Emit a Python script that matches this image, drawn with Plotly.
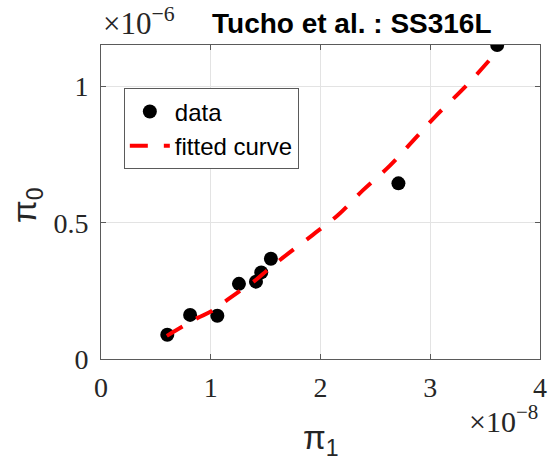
import plotly.graph_objects as go

# data (pi_1 in units of 1e-8, pi_0 in units of 1e-6)
pi1_data = [0.604, 0.812, 1.06, 1.257, 1.412, 1.46, 1.548, 2.71, 3.61]
pi0_data = [0.089, 0.162, 0.159, 0.276, 0.284, 0.318, 0.368, 0.645, 1.153]

fit_x = [0.60, 0.75, 0.88, 1.01, 1.15, 1.28, 1.41, 1.51, 1.66, 1.93, 2.16, 2.39, 2.63, 2.84, 3.05, 3.35, 3.61]
fit_y = [0.085, 0.121, 0.151, 0.176, 0.217, 0.254, 0.290, 0.324, 0.373, 0.456, 0.529, 0.621, 0.709, 0.80, 0.892, 1.013, 1.13]

x_ticks = [0, 1, 2, 3, 4]
y_ticks = [0, 0.5, 1]
x_ticktext = ["0", "1", "2", "3", "4"]
y_ticktext = ["0", "0.5", "1"]

XS = 1e-8
YS = 1e-6

serif = "Liberation Serif"
sans = "Liberation Sans, Arial"
axcol = "#5a5a5a"
txtcol = "#262626"

fig = go.Figure()
fig.add_trace(go.Scatter(
    x=[v * XS for v in pi1_data], y=[v * YS for v in pi0_data],
    mode="markers", name="data",
    marker=dict(color="black", size=14, line=dict(width=0)),
))
fig.add_trace(go.Scatter(
    x=[v * XS for v in fit_x], y=[v * YS for v in fit_y],
    mode="lines", name="fitted curve", line_shape="spline",
    line=dict(color="#ff0000", width=4, dash="18px,16px"),
))

axis_common = dict(
    showgrid=True, gridcolor="#e3e3e3", gridwidth=1,
    showline=True, linecolor=axcol, linewidth=1, mirror="ticks",
    ticks="inside", ticklen=5, tickcolor=axcol, tickwidth=1,
    zeroline=False, automargin=False,
    tickfont=dict(family=serif, size=28, color=txtcol),
)

fig.update_layout(
    width=549, height=461,
    margin=dict(l=101, r=9, t=45, b=102),
    paper_bgcolor="white", plot_bgcolor="white",
    xaxis=dict(range=[0, 4 * XS], tickvals=[v * XS for v in x_ticks],
               ticktext=x_ticktext, ticklabelstandoff=3, **axis_common),
    yaxis=dict(range=[0, 1.153 * YS], tickvals=[v * YS for v in y_ticks],
               ticktext=y_ticktext, ticklabelstandoff=6, **axis_common),
    legend=dict(
        x=0.052, y=0.862, xanchor="left", yanchor="top",
        bgcolor="white", bordercolor="#5a5a5a", borderwidth=1,
        font=dict(family=sans, size=24, color="black"),
        itemwidth=40, tracegroupgap=0,
    ),
    showlegend=True,
)

annotations = [
    dict(text="<b>Tucho et al. : SS316L</b>", x=210, y=24,
         font=dict(family=sans, size=28, color="black")),
    dict(text="×10<sup>−6</sup>", x=101, y=22, font=dict(family=serif, size=31, color=txtcol)),
    dict(text="×10<sup>−8</sup>", x=540, y=419, font=dict(family=serif, size=30, color=txtcol)),
    dict(text="π<sub>1</sub>", x=321, y=440, font=dict(family=sans, size=33, color=txtcol)),
    dict(text="π<sub>0</sub>", x=27, y=205, font=dict(family=sans, size=33, color=txtcol), textangle=-90),
]

# convert pixel positions to paper coords
L, R, T, B = 101, 9, 45, 102
W, H = 549, 461
pw, ph = W - L - R, H - T - B
for a in annotations:
    px, py = a["x"], a["y"]
    a["x"] = (px - L) / pw
    a["y"] = (H - B - py) / ph
    a["xref"] = "paper"
    a["yref"] = "paper"
    a["showarrow"] = False
    a["yanchor"] = "middle"
annotations[0]["xanchor"] = "left"
annotations[1]["xanchor"] = "left"
annotations[2]["xanchor"] = "right"
annotations[3]["xanchor"] = "center"
annotations[4]["xanchor"] = "center"
fig.update_layout(annotations=annotations)

fig.write_html("out.html")
